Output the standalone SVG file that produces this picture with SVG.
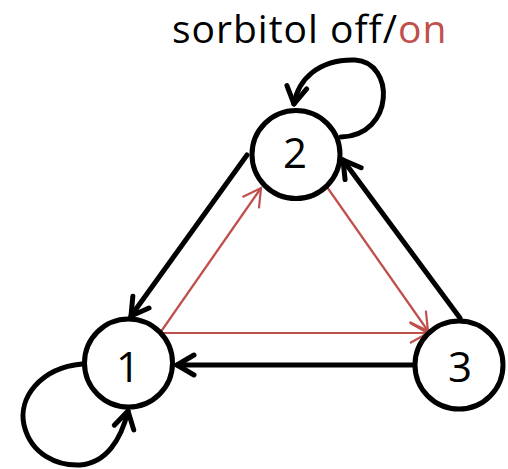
<svg xmlns="http://www.w3.org/2000/svg" width="508" height="469" viewBox="0 0 508 469">
<defs>
<style>
.node{fill:#fff;stroke:#000;stroke-width:5}
.lbl{font-family:"Open Sans","Liberation Sans",sans-serif;font-size:42px;fill:#000;text-anchor:middle}
.ttl{font-family:"Open Sans","Liberation Sans",sans-serif;font-size:39px;letter-spacing:1px}
.blk{fill:none;stroke:#000;stroke-width:5;stroke-linecap:round}
.red{fill:none;stroke:#C0504D;stroke-width:2.2}
</style>
<marker id="ab" markerUnits="userSpaceOnUse" viewBox="-22 -14 26 28" markerWidth="26" markerHeight="28" refX="0" refY="0" orient="auto">
<path d="M-17,-10 L0,0 L-17,10" fill="none" stroke="#000" stroke-width="5" stroke-linecap="round" stroke-linejoin="round"/>
</marker>
<marker id="ar" markerUnits="userSpaceOnUse" viewBox="-22 -14 26 28" markerWidth="26" markerHeight="28" refX="0" refY="0" orient="auto">
<path d="M-18,-10 L0,0 L-18,10" fill="none" stroke="#C0504D" stroke-width="2.2"/>
</marker>
</defs>
<rect width="508" height="469" fill="#fff"/>
<text class="ttl" x="172" y="43" fill="#000">sorbitol off/<tspan fill="#C0504D">on</tspan></text>
<g id="connectors">
<path class="blk" d="M247,155 L131,316" marker-end="url(#ab)"/>
<path class="blk" d="M460,318 L343,160" marker-end="url(#ab)"/>
<path class="blk" d="M413,365 L177,365" marker-end="url(#ab)"/>
<path class="blk" d="M341,137 C395,135 395,62 355,60 C318,59 298,80 294,104" marker-end="url(#ab)"/>
<path class="blk" d="M82,364 C40,368 18,398 24,425 C31,455 58,466 80,465 C106,463 121,440 128,411" marker-end="url(#ab)"/>
<path class="red" d="M160,333 L261,188" marker-end="url(#ar)"/>
<path class="red" d="M327,187 L428,331" marker-end="url(#ar)"/>
<path class="red" d="M160,333 L428,333" marker-end="url(#ar)"/>
</g>
<g id="node1"><circle class="node" cx="128.5" cy="363" r="44"/><text class="lbl" x="128" y="382">1</text></g>
<g id="node2"><circle class="node" cx="296" cy="154.5" r="44"/><text class="lbl" x="295" y="168">2</text></g>
<g id="node3"><circle class="node" cx="459" cy="365" r="44"/><text class="lbl" x="460" y="382">3</text></g>
</svg>
